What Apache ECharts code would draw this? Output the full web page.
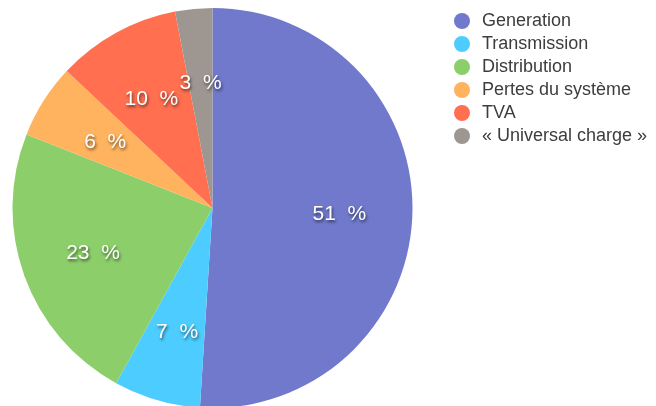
<!DOCTYPE html>
<html><head><meta charset="utf-8">
<script src="https://cdn.jsdelivr.net/npm/echarts@6/dist/echarts.min.js"></script>
<style>html,body{margin:0;padding:0;background:#fff}#c{width:656px;height:406px}</style>
</head><body><div id="c"></div>
<script>
const categories = ["Generation","Transmission","Distribution","Pertes du système","TVA","« Universal charge »"];
const values = [51, 7, 23, 6, 10, 3];
const colors = ["#7079CB","#4DCDFF","#8CCF6A","#FFB35E","#FF6F50","#9E9690"];

const data = categories.map((n,i)=>({name:n, value:values[i]}));
const chart = echarts.init(document.getElementById('c'), null, {renderer:'canvas'});
const R = 200;
chart.setOption({
  animation:false,
  color: colors,
  legend:{
    orient:'vertical', left:449, top:7, icon:'circle',
    itemWidth:16, itemHeight:16, itemGap:5,
    textStyle:{fontFamily:'Liberation Sans, Arial, sans-serif', fontSize:18, color:'#3d3d3d',
      padding:[0,0,0,7]},
    data: categories
  },
  series:[
    {
      type:'pie', center:[212.5,208], radius:[0,R], startAngle:90, clockwise:true,
      label:{show:false}, labelLine:{show:false}, emphasis:{disabled:true},
      itemStyle:{borderWidth:0},
      data:data
    },
    {
      type:'pie', center:[212.5,208], radius:[R*0.24,R], startAngle:90, clockwise:true,
      silent:true, emphasis:{disabled:true},
      itemStyle:{color:'transparent', borderWidth:0},
      label:{show:true, position:'inside', formatter:'{c}\u00a0\u00a0%', color:'#fff',
        fontFamily:'Liberation Sans, Arial, sans-serif', fontSize:21,
        textShadowColor:'rgba(0,0,0,0.6)', textShadowBlur:3, textShadowOffsetX:1, textShadowOffsetY:2},
      labelLayout:{dy:2},
      labelLine:{show:false},
      data:data
    }
  ]
});
</script></body></html>
